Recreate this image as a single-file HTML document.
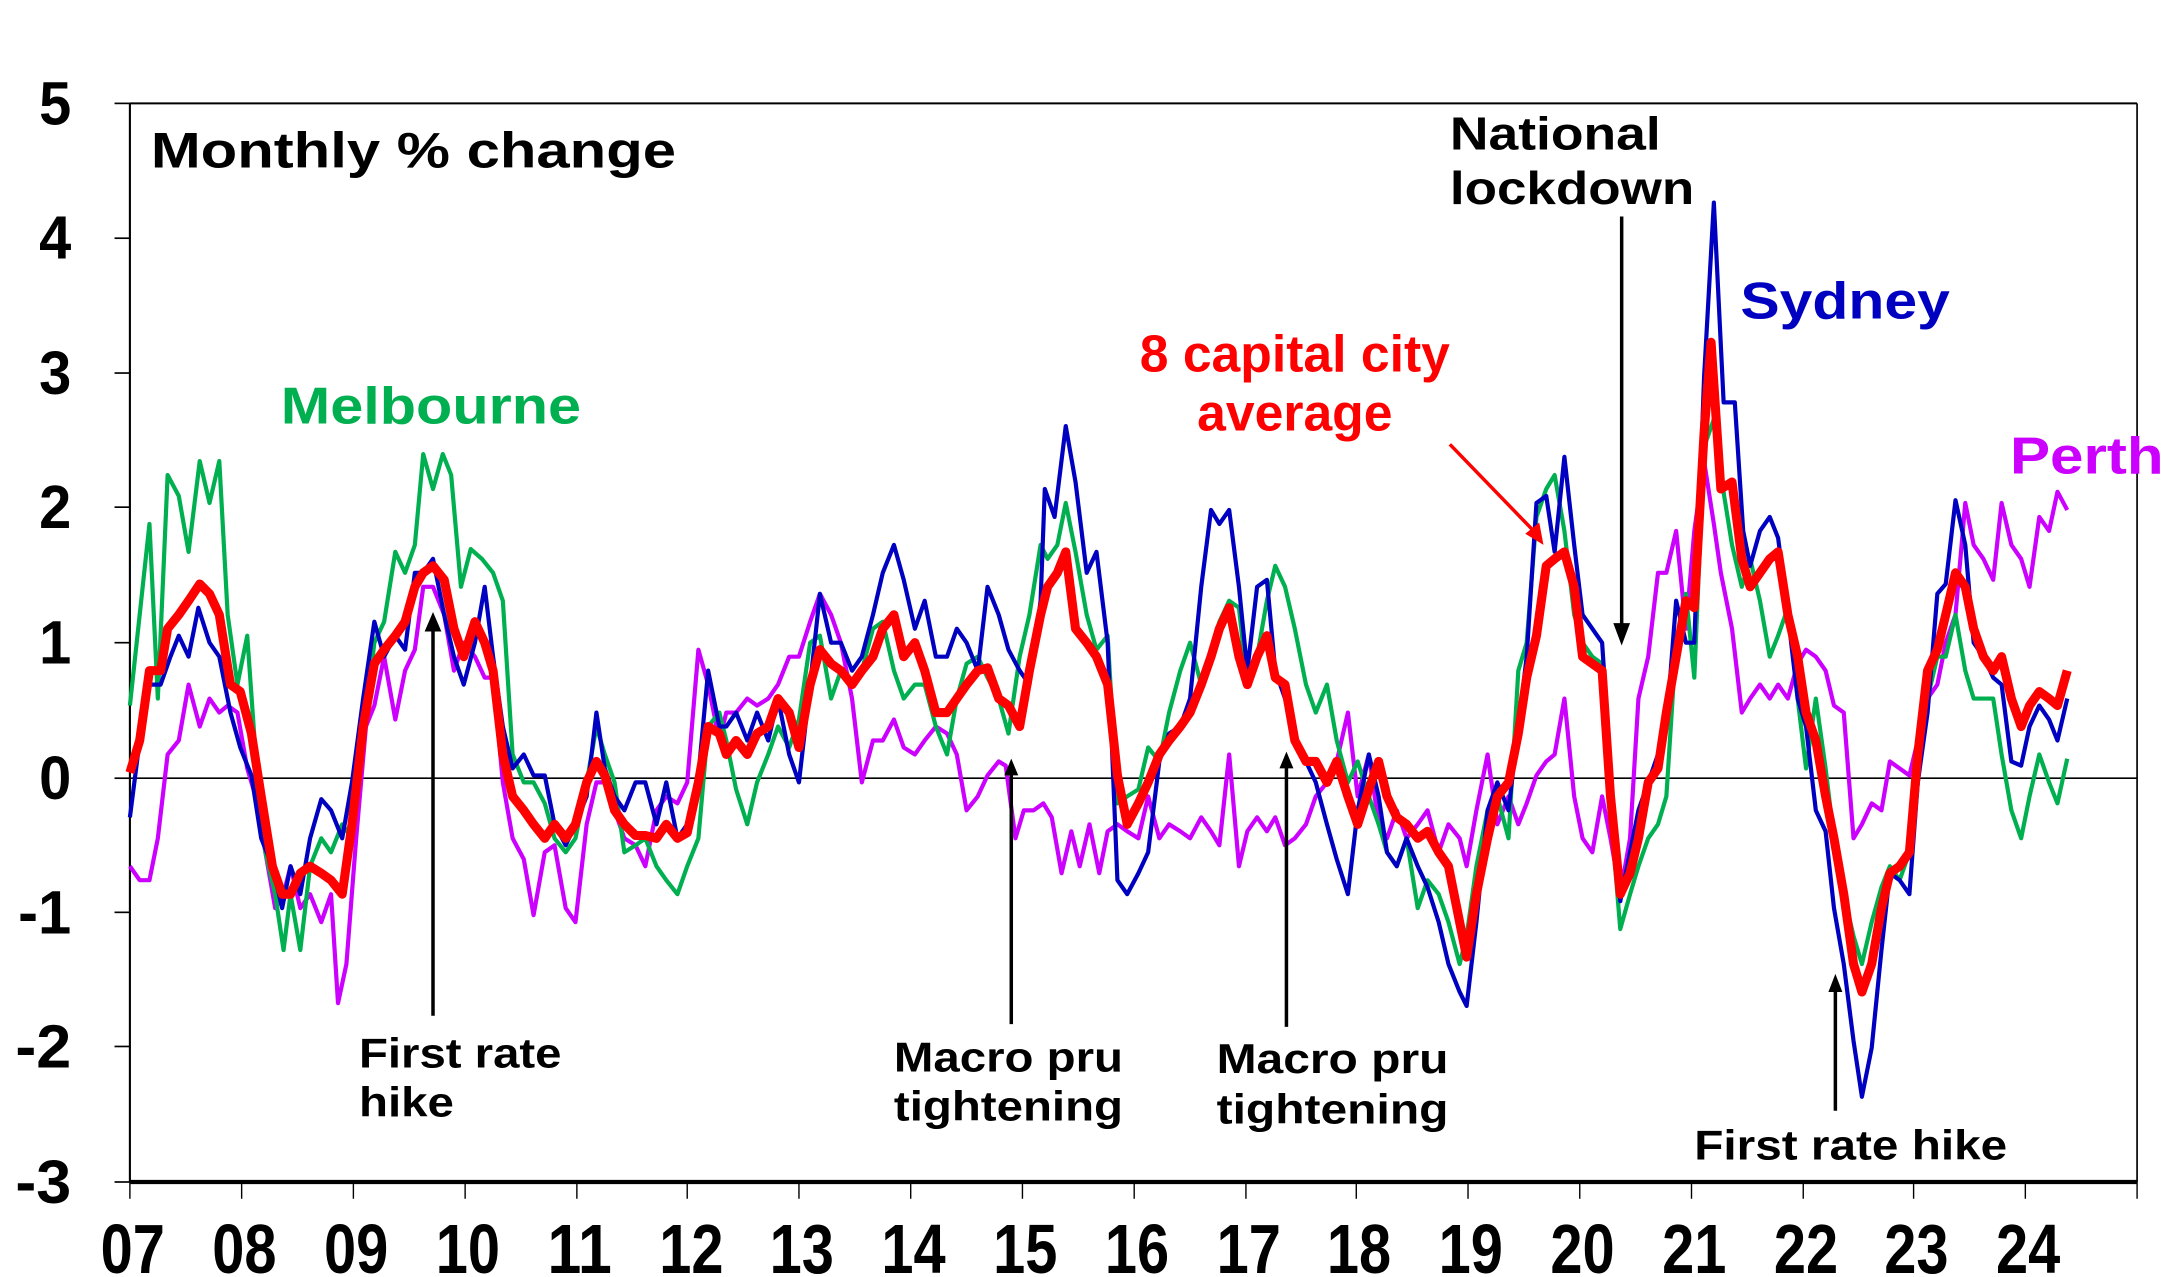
<!DOCTYPE html>
<html><head><meta charset="utf-8"><style>
html,body{margin:0;padding:0;background:#fff;}
svg{display:block;}
text{font-family:"Liberation Sans",Arial,sans-serif;font-weight:bold;}
</style></head><body>
<svg width="2172" height="1277" viewBox="0 0 1555 914" preserveAspectRatio="none" xmlns="http://www.w3.org/2000/svg">
<rect x="0" y="0" width="1555" height="914" fill="#fff"/>
<line x1="93" y1="74" x2="1530" y2="74" stroke="#000" stroke-width="1.5"/>
<line x1="1530" y1="74" x2="1530" y2="846" stroke="#000" stroke-width="1.2"/>
<line x1="93" y1="74" x2="93" y2="846" stroke="#000" stroke-width="1.5"/>
<line x1="93" y1="846" x2="1530" y2="846" stroke="#000" stroke-width="3"/>
<line x1="93" y1="557" x2="1530" y2="557" stroke="#000" stroke-width="1.2"/>
<g stroke="#000" stroke-width="1.2">
<line x1="82" y1="74" x2="93" y2="74"/><line x1="82" y1="170.5" x2="93" y2="170.5"/>
<line x1="82" y1="267" x2="93" y2="267"/><line x1="82" y1="363" x2="93" y2="363"/>
<line x1="82" y1="460" x2="93" y2="460"/><line x1="82" y1="557" x2="93" y2="557"/>
<line x1="82" y1="653" x2="93" y2="653"/><line x1="82" y1="749" x2="93" y2="749"/>
<line x1="82" y1="846" x2="93" y2="846"/>
</g>
<g stroke="#000" stroke-width="1">
<line x1="93" y1="846" x2="93" y2="858"/><line x1="173" y1="846" x2="173" y2="858"/><line x1="253" y1="846" x2="253" y2="858"/><line x1="333" y1="846" x2="333" y2="858"/><line x1="413" y1="846" x2="413" y2="858"/><line x1="492" y1="846" x2="492" y2="858"/><line x1="572" y1="846" x2="572" y2="858"/><line x1="652" y1="846" x2="652" y2="858"/><line x1="732" y1="846" x2="732" y2="858"/><line x1="812" y1="846" x2="812" y2="858"/><line x1="892" y1="846" x2="892" y2="858"/><line x1="971" y1="846" x2="971" y2="858"/><line x1="1051" y1="846" x2="1051" y2="858"/><line x1="1131" y1="846" x2="1131" y2="858"/><line x1="1211" y1="846" x2="1211" y2="858"/><line x1="1291" y1="846" x2="1291" y2="858"/><line x1="1370" y1="846" x2="1370" y2="858"/><line x1="1450" y1="846" x2="1450" y2="858"/><line x1="1530" y1="846" x2="1530" y2="858"/>
</g>
<g font-size="44" text-anchor="end" fill="#000">
<text x="51" y="89" textLength="23" lengthAdjust="spacingAndGlyphs">5</text>
<text x="51" y="185" textLength="23" lengthAdjust="spacingAndGlyphs">4</text>
<text x="51" y="282" textLength="23" lengthAdjust="spacingAndGlyphs">3</text>
<text x="51" y="378" textLength="23" lengthAdjust="spacingAndGlyphs">2</text>
<text x="51" y="475" textLength="23" lengthAdjust="spacingAndGlyphs">1</text>
<text x="51" y="572" textLength="23" lengthAdjust="spacingAndGlyphs">0</text>
<text x="51" y="668" textLength="38" lengthAdjust="spacingAndGlyphs">-1</text>
<text x="51" y="764" textLength="40" lengthAdjust="spacingAndGlyphs">-2</text>
<text x="51" y="861" textLength="40" lengthAdjust="spacingAndGlyphs">-3</text>
</g>
<g font-size="50" fill="#000" lengthAdjust="spacingAndGlyphs">
<text x="72" y="911" textLength="46" lengthAdjust="spacingAndGlyphs">07</text>
<text x="152" y="911" textLength="46" lengthAdjust="spacingAndGlyphs">08</text>
<text x="232" y="911" textLength="46" lengthAdjust="spacingAndGlyphs">09</text>
<text x="312" y="911" textLength="46" lengthAdjust="spacingAndGlyphs">10</text>
<text x="392" y="911" textLength="46" lengthAdjust="spacingAndGlyphs">11</text>
<text x="472" y="911" textLength="46" lengthAdjust="spacingAndGlyphs">12</text>
<text x="551" y="911" textLength="46" lengthAdjust="spacingAndGlyphs">13</text>
<text x="631" y="911" textLength="46" lengthAdjust="spacingAndGlyphs">14</text>
<text x="711" y="911" textLength="46" lengthAdjust="spacingAndGlyphs">15</text>
<text x="791" y="911" textLength="46" lengthAdjust="spacingAndGlyphs">16</text>
<text x="871" y="911" textLength="46" lengthAdjust="spacingAndGlyphs">17</text>
<text x="950" y="911" textLength="46" lengthAdjust="spacingAndGlyphs">18</text>
<text x="1030" y="911" textLength="46" lengthAdjust="spacingAndGlyphs">19</text>
<text x="1110" y="911" textLength="46" lengthAdjust="spacingAndGlyphs">20</text>
<text x="1190" y="911" textLength="46" lengthAdjust="spacingAndGlyphs">21</text>
<text x="1270" y="911" textLength="46" lengthAdjust="spacingAndGlyphs">22</text>
<text x="1349" y="911" textLength="46" lengthAdjust="spacingAndGlyphs">23</text>
<text x="1429" y="911" textLength="46" lengthAdjust="spacingAndGlyphs">24</text>
</g>
<g fill="none" stroke-linejoin="round">
<polyline stroke="#cc00ff" stroke-width="3" points="93,620 100,630 107,630 113,600 120,540 128,530 135,490 143,520 150,500 157,510 163,505 170,510 177,550 183,570 190,610 197,650 203,640 208,620 215,650 222,640 230,660 237,640 242,718 248,690 255,600 262,520 268,505 275,470 283,515 290,480 297,465 303,420 310,420 318,440 325,480 332,460 340,470 347,485 353,485 360,560 367,600 375,615 382,655 390,610 397,605 405,650 412,660 420,590 427,560 433,560 440,580 447,600 455,605 462,620 470,580 477,570 485,575 492,560 500,465 507,490 515,530 520,510 527,510 535,500 542,505 550,500 557,490 565,470 572,470 580,445 587,425 595,440 602,460 610,500 617,560 625,530 632,530 640,515 647,535 655,540 662,530 670,520 678,525 685,540 692,580 700,570 707,555 715,545 720,548 727,600 733,580 740,580 747,575 753,585 760,625 767,595 773,620 780,590 787,625 793,595 800,590 807,595 815,600 822,570 830,600 837,590 845,595 852,600 860,585 867,595 873,605 880,540 887,620 893,595 900,585 907,595 913,585 920,605 927,600 935,590 942,570 950,560 957,545 965,510 972,570 980,540 987,590 993,600 1000,580 1007,600 1015,590 1022,580 1030,610 1037,590 1045,600 1050,620 1057,580 1065,540 1072,590 1080,570 1087,590 1093,575 1100,555 1107,545 1113,540 1120,500 1127,570 1133,600 1140,610 1147,570 1153,600 1160,640 1167,600 1173,500 1180,470 1187,410 1193,410 1200,380 1207,450 1213,380 1220,330 1227,375 1232,410 1240,450 1247,510 1253,500 1260,490 1267,500 1273,490 1280,500 1287,475 1293,465 1300,470 1307,480 1313,505 1320,510 1327,600 1333,590 1340,575 1347,580 1353,545 1360,550 1367,555 1373,530 1380,500 1387,490 1393,460 1400,440 1407,360 1413,390 1420,400 1427,415 1433,360 1440,390 1447,400 1453,420 1460,370 1467,380 1473,352 1480,365"/>
<polyline stroke="#00b050" stroke-width="3" points="93,505 100,440 107,375 113,500 120,340 128,355 135,395 143,330 150,360 157,330 163,440 170,490 177,455 183,540 190,610 197,640 203,680 208,640 215,680 222,620 230,600 237,610 245,590 252,600 260,530 268,460 275,445 283,395 290,410 297,390 303,325 310,350 317,325 323,340 330,420 337,393 345,400 353,410 360,430 367,540 375,560 382,560 390,575 397,600 405,610 412,600 420,560 427,520 433,540 440,560 447,610 455,605 462,600 470,620 477,630 485,640 492,620 500,600 507,520 515,510 520,530 527,565 535,590 542,560 550,540 557,520 565,535 572,515 580,460 587,455 595,500 602,480 610,490 617,480 625,450 632,445 640,480 647,500 655,490 662,490 670,520 678,540 685,500 692,475 700,470 707,485 715,500 722,525 730,470 737,440 745,390 750,400 757,390 763,360 770,395 778,440 785,465 793,455 800,575 807,570 815,565 822,535 830,545 837,510 845,480 852,460 860,490 867,465 873,445 880,430 887,435 893,490 900,470 907,430 913,405 920,420 927,450 935,490 942,510 950,490 957,530 965,560 972,545 980,570 987,590 993,610 1000,620 1007,600 1015,650 1022,630 1030,640 1037,660 1045,690 1050,670 1057,620 1065,580 1072,570 1080,600 1087,480 1093,460 1100,370 1107,350 1113,340 1120,380 1127,440 1133,460 1140,470 1147,475 1153,580 1160,665 1167,640 1173,620 1180,600 1187,590 1193,570 1200,460 1207,425 1213,485 1220,320 1227,300 1232,340 1240,390 1247,420 1253,400 1260,430 1267,470 1273,455 1280,435 1287,500 1293,550 1300,500 1307,550 1313,600 1320,640 1327,670 1333,690 1340,660 1347,635 1353,620 1360,630 1367,610 1373,560 1380,500 1387,470 1393,470 1400,440 1407,480 1413,500 1420,500 1427,500 1433,540 1440,580 1447,600 1453,570 1460,540 1467,560 1473,575 1480,543"/>
<polyline stroke="#0000c0" stroke-width="3" points="93,585 100,530 107,490 115,490 122,470 128,455 135,470 142,435 150,460 157,470 165,510 172,535 180,555 187,600 195,620 202,650 208,620 215,640 222,600 230,572 237,580 245,600 252,560 260,500 268,445 275,470 283,455 290,465 297,410 303,410 310,400 318,440 325,470 332,490 340,460 347,420 353,470 360,520 367,550 375,540 382,555 390,555 397,590 405,605 412,590 420,570 427,510 433,550 440,570 447,580 455,560 462,560 470,590 477,560 485,600 492,590 500,555 507,480 515,520 520,520 527,510 535,530 542,510 550,530 557,500 565,540 572,560 580,490 587,425 595,460 602,460 610,480 617,470 625,440 632,410 640,390 647,415 655,450 662,430 670,470 678,470 685,450 692,460 700,480 707,420 715,440 722,465 730,480 737,490 745,430 748,350 755,370 763,305 770,345 778,410 785,395 793,460 800,630 807,640 815,625 822,610 830,545 837,525 845,520 852,500 860,420 867,365 873,375 880,365 887,420 893,480 900,420 907,415 913,480 920,500 927,530 935,545 942,560 950,590 957,615 965,640 972,580 980,540 987,570 993,610 1000,620 1007,600 1015,620 1022,635 1030,660 1037,690 1045,710 1050,720 1057,660 1065,580 1072,560 1080,580 1087,520 1093,470 1100,360 1107,355 1113,395 1120,327 1127,390 1133,440 1140,450 1147,460 1153,550 1160,645 1167,610 1173,580 1180,560 1187,540 1193,520 1200,430 1207,460 1213,460 1220,270 1227,145 1234,288 1242,288 1248,380 1253,405 1260,380 1267,370 1273,385 1280,440 1287,500 1293,520 1300,580 1307,595 1313,650 1320,690 1327,745 1333,785 1340,750 1347,680 1353,625 1360,630 1367,640 1373,560 1380,510 1387,425 1393,418 1400,358 1407,390 1413,460 1420,470 1427,485 1433,490 1440,545 1447,548 1453,520 1460,505 1467,515 1473,530 1480,500"/>
<polyline stroke="#ff0000" stroke-width="6.5" points="93,553 100,530 107,480 115,480 120,450 128,440 135,430 143,418 150,425 157,440 165,490 172,495 180,525 187,570 195,620 202,640 208,640 215,625 222,620 230,625 237,630 245,640 252,590 260,520 268,475 275,465 283,455 290,445 297,420 303,410 310,405 318,415 325,450 332,470 340,445 347,460 353,480 360,540 367,570 375,580 382,590 390,600 397,590 405,600 412,590 420,560 427,545 433,555 440,580 447,590 455,598 462,598 470,600 477,590 485,600 492,596 500,560 507,520 515,525 520,540 527,530 535,540 542,525 550,520 557,500 565,510 572,535 580,490 587,465 595,475 602,480 610,490 617,480 625,470 632,450 640,440 647,470 655,460 662,480 670,510 678,510 685,500 692,490 700,480 707,478 715,500 722,505 730,520 737,480 745,440 750,420 757,410 763,395 770,450 778,460 785,470 793,490 800,555 807,590 815,575 822,560 830,540 837,530 845,520 852,510 860,490 867,470 873,450 880,435 887,470 893,490 900,470 907,455 913,485 920,490 927,530 935,545 942,545 950,560 957,545 965,570 972,590 980,565 987,545 993,570 1000,585 1007,590 1015,600 1022,595 1030,610 1037,620 1045,660 1050,685 1057,640 1065,600 1072,570 1080,560 1087,525 1093,485 1100,455 1107,405 1113,400 1120,395 1127,420 1133,470 1140,475 1147,480 1153,570 1160,640 1167,625 1173,600 1180,560 1187,550 1193,510 1200,470 1207,430 1213,435 1220,310 1225,245 1232,350 1240,345 1247,400 1253,420 1260,410 1267,400 1273,395 1280,440 1287,470 1293,510 1300,530 1307,570 1313,600 1320,640 1327,690 1333,710 1340,690 1347,650 1353,625 1360,620 1367,610 1373,540 1380,480 1387,465 1393,440 1400,410 1407,420 1413,450 1420,470 1427,480 1433,470 1440,500 1447,520 1453,505 1460,495 1467,500 1473,505 1480,480"/>
</g>
<g stroke="#000" stroke-width="2.5" fill="#000">
<line x1="310" y1="727" x2="310" y2="450"/><polygon points="304,452 316,452 310,438" stroke="none"/>
<line x1="724" y1="733" x2="724" y2="553"/><polygon points="719,555 729,555 724,543" stroke="none"/>
<line x1="921" y1="735" x2="921" y2="548"/><polygon points="916,550 926,550 921,538" stroke="none"/>
<line x1="1161" y1="155" x2="1161" y2="448"/><polygon points="1155,446 1167,446 1161,462" stroke="none"/>
<line x1="1314" y1="795" x2="1314" y2="708"/><polygon points="1309,710 1319,710 1314,697" stroke="none"/>
</g>
<line x1="1038" y1="318" x2="1098" y2="380" stroke="#ff0000" stroke-width="2.5"/>
<polygon points="1092,382 1102,374 1105,390" fill="#ff0000"/>
<text x="108" y="120" font-size="36" fill="#000" textLength="376" lengthAdjust="spacingAndGlyphs">Monthly % change</text>
<text x="201" y="303" font-size="37" fill="#00b050" textLength="215" lengthAdjust="spacingAndGlyphs">Melbourne</text>
<text x="927" y="266" font-size="37" fill="#ff0000" text-anchor="middle">8 capital city</text>
<text x="927" y="308" font-size="37" fill="#ff0000" text-anchor="middle">average</text>
<text x="1246" y="228" font-size="37" fill="#0000c0" textLength="150" lengthAdjust="spacingAndGlyphs">Sydney</text>
<text x="1439" y="339" font-size="37" fill="#cc00ff" textLength="110" lengthAdjust="spacingAndGlyphs">Perth</text>
<text x="1038" y="107" font-size="33" fill="#000" textLength="151" lengthAdjust="spacingAndGlyphs">National</text>
<text x="1038" y="146" font-size="33" fill="#000" textLength="175" lengthAdjust="spacingAndGlyphs">lockdown</text>
<g font-size="30" fill="#000">
<text x="257" y="764" textLength="145" lengthAdjust="spacingAndGlyphs">First rate</text>
<text x="257" y="799" textLength="68" lengthAdjust="spacingAndGlyphs">hike</text>
<text x="640" y="767" textLength="164" lengthAdjust="spacingAndGlyphs">Macro pru</text>
<text x="640" y="802" textLength="164" lengthAdjust="spacingAndGlyphs">tightening</text>
<text x="871" y="768" textLength="166" lengthAdjust="spacingAndGlyphs">Macro pru</text>
<text x="871" y="804" textLength="166" lengthAdjust="spacingAndGlyphs">tightening</text>
<text x="1213" y="830" textLength="224" lengthAdjust="spacingAndGlyphs">First rate hike</text>
</g>
</svg>
</body></html>
